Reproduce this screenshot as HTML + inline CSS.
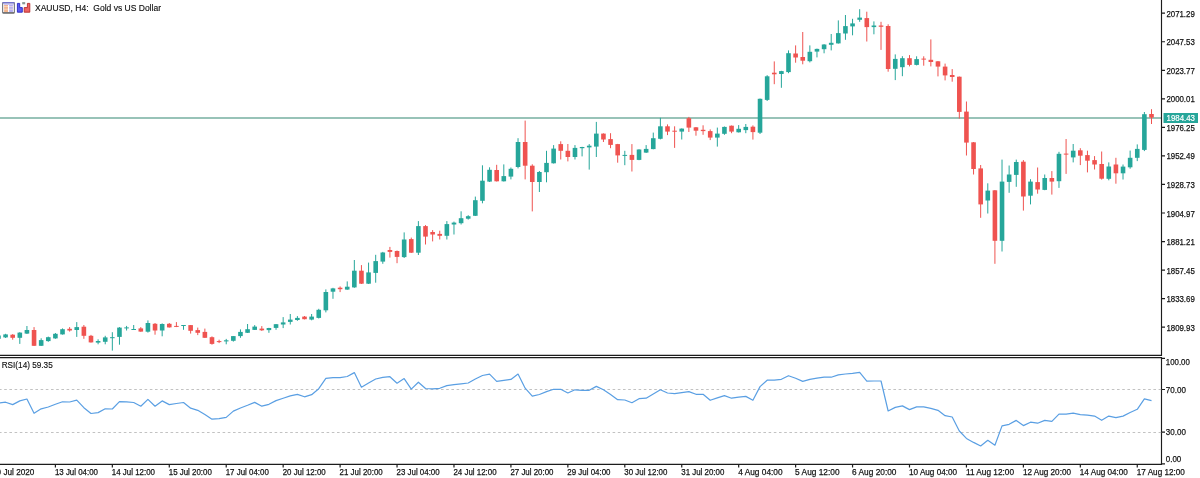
<!DOCTYPE html>
<html><head><meta charset="utf-8"><title>XAUUSD H4</title>
<style>
html,body{margin:0;padding:0;background:#fff;}
body{width:1200px;height:478px;overflow:hidden;position:relative;font-family:"Liberation Sans",sans-serif;}
svg{display:block;position:absolute;left:0;top:0;filter:blur(0.3px);}
</style></head><body>
<svg width="1200" height="478" viewBox="0 0 1200 478"><line x1="0" y1="118" x2="1161.5" y2="118" stroke="#98c3b8" stroke-width="2"/><path d="M-1.54 335.0V339.0 M5.58 333.8V338.0 M19.81 332.2V343.9 M26.93 326.0V334.0 M41.16 338.3V346.0 M48.28 336.6V341.8 M55.40 333.0V338.8 M62.52 328.4V334.6 M76.75 322.1V336.9 M98.10 339.3V344.3 M105.22 335.8V344.3 M112.34 332.2V350.6 M119.46 327.1V344.7 M126.57 325.9V330.5 M133.69 325.0V330.0 M147.93 320.4V332.6 M162.16 323.4V336.3 M183.52 325.0V329.8 M226.22 338.9V344.3 M233.34 336.0V341.6 M240.46 329.4V337.8 M247.57 324.0V333.0 M254.69 325.1V330.0 M268.92 327.8V332.8 M276.04 324.0V329.8 M283.16 317.1V328.1 M290.28 314.0V324.5 M297.39 316.1V320.8 M311.63 314.0V320.3 M318.75 308.8V318.5 M325.86 289.4V312.4 M332.98 287.8V298.8 M347.22 281.4V289.8 M354.33 260.0V287.8 M368.57 262.6V284.0 M375.69 254.8V282.7 M382.80 251.9V263.8 M404.16 232.4V258.0 M418.39 221.1V255.0 M446.86 221.1V239.5 M453.98 221.6V234.5 M461.10 211.3V224.5 M468.21 215.2V219.6 M475.33 196.6V216.0 M482.45 165.3V203.3 M489.57 167.3V182.0 M503.80 164.4V181.5 M510.92 167.5V179.4 M518.04 138.2V168.4 M539.39 171.0V192.0 M546.51 150.8V182.3 M553.62 145.1V163.5 M574.98 145.1V159.5 M582.09 146.8V156.4 M589.21 144.1V169.6 M596.33 121.9V157.0 M624.80 150.8V165.2 M639.03 149.3V160.2 M646.15 145.1V153.0 M653.27 132.6V149.3 M660.39 117.8V139.4 M681.74 128.4V139.5 M717.33 127.6V146.6 M724.44 126.5V134.8 M738.68 125.1V132.5 M745.80 124.0V133.2 M760.03 98.5V134.0 M767.15 75.2V101.0 M781.38 70.8V87.8 M788.50 50.4V73.2 M809.85 45.4V62.4 M816.97 48.6V57.4 M824.09 44.2V53.3 M831.21 34.0V50.4 M838.32 20.4V43.6 M845.44 15.0V39.8 M852.56 18.8V35.3 M859.68 9.2V21.8 M873.91 21.4V34.3 M895.26 54.4V80.1 M902.38 56.2V76.2 M916.62 56.3V65.4 M987.79 183.3V213.5 M1002.03 159.6V251.5 M1009.14 165.5V192.8 M1016.26 159.6V186.8 M1030.50 179.2V204.4 M1044.73 174.5V190.2 M1058.97 151.8V187.9 M1073.20 144.0V162.4 M1108.79 162.4V180.3 M1123.03 164.5V179.5 M1130.14 150.6V168.7 M1137.26 144.4V161.1 M1144.38 112.0V151.1" stroke="#26a69a" stroke-width="1" fill="none"/><path d="M12.70 334.1V339.7 M34.05 327.1V346.0 M69.63 327.1V331.6 M83.87 325.0V338.8 M90.99 334.9V342.6 M140.81 327.1V331.8 M155.04 323.0V334.7 M169.28 323.0V327.6 M176.40 322.1V327.1 M190.63 325.0V333.6 M197.75 327.6V335.1 M204.87 328.6V338.0 M211.98 336.4V344.7 M219.10 339.7V343.1 M261.81 326.1V330.9 M304.51 316.0V319.4 M340.10 286.4V292.1 M361.45 265.1V284.0 M389.92 246.9V257.6 M397.04 250.5V263.2 M411.27 237.6V253.0 M425.51 225.1V244.5 M432.63 230.1V241.4 M439.74 230.7V239.5 M496.68 164.8V181.5 M525.15 120.6V179.4 M532.27 164.3V211.4 M560.74 141.3V159.5 M567.86 144.0V161.4 M603.45 133.4V142.0 M610.56 133.2V148.2 M617.68 143.9V162.7 M631.92 144.1V171.5 M667.50 124.4V135.1 M674.62 126.3V147.9 M688.86 116.9V132.0 M695.97 127.0V135.7 M703.09 125.3V134.8 M710.21 129.4V140.1 M731.56 125.5V133.2 M752.91 125.4V139.6 M774.27 61.4V84.2 M795.62 45.4V62.7 M802.74 32.0V64.3 M866.79 11.7V41.5 M881.03 21.8V49.9 M888.15 24.3V71.7 M909.50 55.1V66.4 M923.73 56.3V65.7 M930.85 39.4V66.4 M937.97 61.0V76.4 M945.09 63.6V80.4 M952.20 69.1V81.7 M959.32 76.5V118.6 M966.44 101.5V155.5 M973.56 142.0V174.5 M980.67 165.0V217.8 M994.91 190.0V263.8 M1023.38 160.1V210.6 M1037.62 167.5V193.7 M1051.85 171.1V194.6 M1066.09 139.0V173.9 M1080.32 148.2V165.1 M1087.44 150.7V172.4 M1094.56 156.1V169.5 M1101.67 151.5V179.6 M1115.91 157.8V183.7 M1151.50 109.2V124.0" stroke="#ef5350" stroke-width="1" fill="none"/><g fill="#26a69a"><rect x="-3.84" y="335.5" width="4.6" height="3.3"/><rect x="3.28" y="334.4" width="4.6" height="3.0"/><rect x="17.51" y="332.6" width="4.6" height="5.2"/><rect x="24.63" y="330.0" width="4.6" height="3.6"/><rect x="38.87" y="340.1" width="4.6" height="5.7"/><rect x="45.98" y="337.2" width="4.6" height="3.9"/><rect x="53.10" y="333.8" width="4.6" height="4.6"/><rect x="60.22" y="329.2" width="4.6" height="5.2"/><rect x="74.45" y="327.1" width="4.6" height="2.9"/><rect x="95.80" y="341.0" width="4.6" height="1.6"/><rect x="102.92" y="337.4" width="4.6" height="4.4"/><rect x="110.04" y="337.2" width="4.6" height="1.0"/><rect x="117.16" y="327.6" width="4.6" height="9.3"/><rect x="124.27" y="327.4" width="4.6" height="1.0"/><rect x="131.39" y="329.0" width="4.6" height="1.0"/><rect x="145.63" y="323.0" width="4.6" height="8.7"/><rect x="159.86" y="324.0" width="4.6" height="6.5"/><rect x="181.22" y="325.0" width="4.6" height="1.0"/><rect x="223.92" y="340.3" width="4.6" height="1.1"/><rect x="231.04" y="336.1" width="4.6" height="4.7"/><rect x="238.16" y="331.9" width="4.6" height="4.2"/><rect x="245.27" y="329.2" width="4.6" height="3.6"/><rect x="252.39" y="326.6" width="4.6" height="3.3"/><rect x="266.62" y="328.0" width="4.6" height="2.1"/><rect x="273.74" y="324.2" width="4.6" height="3.7"/><rect x="280.86" y="322.4" width="4.6" height="2.1"/><rect x="287.98" y="319.6" width="4.6" height="2.3"/><rect x="295.09" y="317.9" width="4.6" height="2.1"/><rect x="309.33" y="316.6" width="4.6" height="3.0"/><rect x="316.45" y="309.8" width="4.6" height="8.1"/><rect x="323.56" y="292.0" width="4.6" height="18.3"/><rect x="330.68" y="288.4" width="4.6" height="3.3"/><rect x="344.92" y="286.7" width="4.6" height="2.9"/><rect x="352.03" y="270.7" width="4.6" height="16.7"/><rect x="366.27" y="272.4" width="4.6" height="11.3"/><rect x="373.39" y="261.1" width="4.6" height="11.8"/><rect x="380.50" y="252.5" width="4.6" height="9.1"/><rect x="401.86" y="239.5" width="4.6" height="17.6"/><rect x="416.09" y="226.1" width="4.6" height="26.6"/><rect x="444.56" y="224.1" width="4.6" height="11.7"/><rect x="451.68" y="222.6" width="4.6" height="1.9"/><rect x="458.80" y="218.2" width="4.6" height="5.0"/><rect x="465.91" y="216.2" width="4.6" height="2.5"/><rect x="473.03" y="200.2" width="4.6" height="15.6"/><rect x="480.15" y="180.7" width="4.6" height="20.1"/><rect x="487.27" y="169.8" width="4.6" height="11.8"/><rect x="501.50" y="176.1" width="4.6" height="5.2"/><rect x="508.62" y="168.8" width="4.6" height="7.8"/><rect x="515.74" y="142.0" width="4.6" height="25.0"/><rect x="537.09" y="172.0" width="4.6" height="10.0"/><rect x="544.21" y="162.9" width="4.6" height="9.3"/><rect x="551.33" y="148.6" width="4.6" height="14.7"/><rect x="572.68" y="147.9" width="4.6" height="9.1"/><rect x="579.79" y="147.0" width="4.6" height="1.2"/><rect x="586.91" y="145.7" width="4.6" height="1.7"/><rect x="594.03" y="133.6" width="4.6" height="13.0"/><rect x="622.50" y="154.9" width="4.6" height="1.0"/><rect x="636.74" y="149.5" width="4.6" height="10.4"/><rect x="643.85" y="148.9" width="4.6" height="3.7"/><rect x="650.97" y="138.2" width="4.6" height="10.9"/><rect x="658.09" y="126.3" width="4.6" height="12.5"/><rect x="679.44" y="128.6" width="4.6" height="3.0"/><rect x="715.03" y="133.6" width="4.6" height="4.0"/><rect x="722.14" y="126.9" width="4.6" height="6.9"/><rect x="736.38" y="128.8" width="4.6" height="3.5"/><rect x="743.50" y="126.9" width="4.6" height="3.2"/><rect x="757.73" y="98.8" width="4.6" height="33.9"/><rect x="764.85" y="76.3" width="4.6" height="23.6"/><rect x="779.09" y="71.1" width="4.6" height="2.9"/><rect x="786.20" y="53.2" width="4.6" height="18.9"/><rect x="807.55" y="51.8" width="4.6" height="9.4"/><rect x="814.67" y="48.9" width="4.6" height="2.7"/><rect x="821.79" y="44.5" width="4.6" height="4.7"/><rect x="828.91" y="42.8" width="4.6" height="2.0"/><rect x="836.02" y="33.1" width="4.6" height="10.3"/><rect x="843.14" y="26.1" width="4.6" height="7.4"/><rect x="850.26" y="23.4" width="4.6" height="3.0"/><rect x="857.38" y="17.6" width="4.6" height="2.2"/><rect x="871.61" y="25.5" width="4.6" height="1.6"/><rect x="892.97" y="58.9" width="4.6" height="9.9"/><rect x="900.08" y="58.2" width="4.6" height="9.0"/><rect x="914.32" y="59.1" width="4.6" height="5.8"/><rect x="985.49" y="190.6" width="4.6" height="9.9"/><rect x="999.73" y="181.6" width="4.6" height="59.2"/><rect x="1006.85" y="174.5" width="4.6" height="7.4"/><rect x="1013.96" y="162.0" width="4.6" height="12.9"/><rect x="1028.20" y="181.6" width="4.6" height="14.1"/><rect x="1042.43" y="178.0" width="4.6" height="11.9"/><rect x="1056.67" y="153.8" width="4.6" height="27.4"/><rect x="1070.90" y="150.7" width="4.6" height="6.7"/><rect x="1106.49" y="166.5" width="4.6" height="12.3"/><rect x="1120.73" y="166.6" width="4.6" height="6.7"/><rect x="1127.84" y="157.8" width="4.6" height="9.5"/><rect x="1134.96" y="148.9" width="4.6" height="8.9"/><rect x="1142.08" y="114.2" width="4.6" height="35.7"/></g><g fill="#ef5350"><rect x="10.39" y="334.7" width="4.6" height="3.1"/><rect x="31.75" y="330.0" width="4.6" height="15.8"/><rect x="67.33" y="328.8" width="4.6" height="1.7"/><rect x="81.57" y="326.7" width="4.6" height="9.1"/><rect x="88.69" y="335.8" width="4.6" height="6.6"/><rect x="138.51" y="328.4" width="4.6" height="3.2"/><rect x="152.74" y="323.8" width="4.6" height="6.7"/><rect x="166.98" y="323.8" width="4.6" height="3.6"/><rect x="174.10" y="325.9" width="4.6" height="1.0"/><rect x="188.33" y="325.1" width="4.6" height="5.7"/><rect x="195.45" y="330.1" width="4.6" height="2.7"/><rect x="202.57" y="331.9" width="4.6" height="5.9"/><rect x="209.68" y="337.2" width="4.6" height="6.7"/><rect x="216.80" y="341.1" width="4.6" height="1.0"/><rect x="259.51" y="328.6" width="4.6" height="1.7"/><rect x="302.21" y="316.6" width="4.6" height="2.6"/><rect x="337.80" y="287.7" width="4.6" height="1.5"/><rect x="359.15" y="270.7" width="4.6" height="13.0"/><rect x="387.62" y="250.0" width="4.6" height="1.9"/><rect x="394.74" y="251.0" width="4.6" height="5.9"/><rect x="408.97" y="239.1" width="4.6" height="13.6"/><rect x="423.21" y="226.1" width="4.6" height="10.5"/><rect x="430.33" y="232.0" width="4.6" height="2.5"/><rect x="437.44" y="233.9" width="4.6" height="1.9"/><rect x="494.38" y="170.0" width="4.6" height="11.3"/><rect x="522.86" y="142.0" width="4.6" height="23.7"/><rect x="529.97" y="165.7" width="4.6" height="16.3"/><rect x="558.44" y="144.1" width="4.6" height="6.7"/><rect x="565.56" y="150.8" width="4.6" height="6.2"/><rect x="601.15" y="133.6" width="4.6" height="5.9"/><rect x="608.26" y="139.1" width="4.6" height="5.8"/><rect x="615.38" y="144.1" width="4.6" height="11.3"/><rect x="629.62" y="154.9" width="4.6" height="5.0"/><rect x="665.21" y="126.3" width="4.6" height="5.3"/><rect x="672.32" y="130.7" width="4.6" height="1.0"/><rect x="686.56" y="118.2" width="4.6" height="9.4"/><rect x="693.67" y="127.3" width="4.6" height="3.4"/><rect x="700.79" y="129.8" width="4.6" height="1.3"/><rect x="707.91" y="131.1" width="4.6" height="6.5"/><rect x="729.26" y="125.7" width="4.6" height="5.9"/><rect x="750.62" y="126.7" width="4.6" height="5.4"/><rect x="771.97" y="72.7" width="4.6" height="1.6"/><rect x="793.32" y="53.5" width="4.6" height="4.0"/><rect x="800.44" y="57.0" width="4.6" height="3.7"/><rect x="864.50" y="18.1" width="4.6" height="9.0"/><rect x="878.73" y="25.5" width="4.6" height="1.3"/><rect x="885.85" y="26.0" width="4.6" height="43.0"/><rect x="907.20" y="58.2" width="4.6" height="6.7"/><rect x="921.43" y="58.6" width="4.6" height="1.0"/><rect x="928.55" y="59.8" width="4.6" height="2.2"/><rect x="935.67" y="61.3" width="4.6" height="5.3"/><rect x="942.79" y="66.6" width="4.6" height="8.8"/><rect x="949.90" y="75.0" width="4.6" height="2.0"/><rect x="957.02" y="76.7" width="4.6" height="35.2"/><rect x="964.14" y="111.6" width="4.6" height="31.0"/><rect x="971.26" y="142.3" width="4.6" height="26.7"/><rect x="978.38" y="168.4" width="4.6" height="36.0"/><rect x="992.61" y="190.3" width="4.6" height="50.5"/><rect x="1021.08" y="161.7" width="4.6" height="34.8"/><rect x="1035.32" y="182.1" width="4.6" height="7.4"/><rect x="1049.55" y="178.0" width="4.6" height="3.6"/><rect x="1063.79" y="153.6" width="4.6" height="1.0"/><rect x="1078.02" y="150.3" width="4.6" height="5.4"/><rect x="1085.14" y="155.1" width="4.6" height="5.6"/><rect x="1092.26" y="160.1" width="4.6" height="4.4"/><rect x="1099.37" y="164.0" width="4.6" height="14.7"/><rect x="1113.61" y="164.5" width="4.6" height="8.8"/><rect x="1149.20" y="114.0" width="4.6" height="3.6"/></g><path d="M0 355.4H1161.5V0 M0 357.6H1161.5V464.4H0" stroke="#1c1c1c" stroke-width="1.15" fill="none"/><path d="M1161.5 13.20H1165 M1161.5 41.75H1165 M1161.5 70.29H1165 M1161.5 98.84H1165 M1161.5 127.38H1165 M1161.5 155.93H1165 M1161.5 184.47H1165 M1161.5 213.01H1165 M1161.5 241.56H1165 M1161.5 270.11H1165 M1161.5 298.65H1165 M1161.5 327.19H1165 M1161.5 358.40H1165 M1161.5 389.50H1165 M1161.5 432.10H1165 M1161.5 463.90H1165 M55.40 464V467.5 M112.34 464V467.5 M169.28 464V467.5 M226.22 464V467.5 M283.16 464V467.5 M340.10 464V467.5 M397.04 464V467.5 M453.98 464V467.5 M510.92 464V467.5 M567.86 464V467.5 M624.80 464V467.5 M681.74 464V467.5 M738.68 464V467.5 M795.62 464V467.5 M852.56 464V467.5 M909.50 464V467.5 M966.44 464V467.5 M1023.38 464V467.5 M1080.32 464V467.5 M1137.26 464V467.5" stroke="#1c1c1c" stroke-width="1.2" fill="none"/><path d="M0 389.5H1161.5 M0 432.5H1161.5" stroke="#c2c2c2" stroke-width="1" stroke-dasharray="2.6 2.6" stroke-dashoffset="1" fill="none"/><polyline points="-1.54,403.0 5.58,402.2 12.70,404.6 19.81,400.9 26.93,399.0 34.05,413.3 41.16,408.8 48.28,407.0 55.40,404.3 62.52,401.8 69.63,402.0 76.75,400.1 83.87,407.7 90.99,413.5 98.10,412.6 105.22,408.8 112.34,409.0 119.46,401.6 126.57,401.8 133.69,402.5 140.81,406.2 147.93,399.4 155.04,406.2 162.16,400.9 169.28,404.6 176.40,403.5 183.52,402.5 190.63,408.2 197.75,410.3 204.87,414.5 211.98,419.2 219.10,418.7 226.22,417.4 233.34,411.1 240.46,408.0 247.57,405.3 254.69,402.4 261.81,406.2 268.92,404.3 276.04,400.6 283.16,398.2 290.28,395.9 297.39,394.4 304.51,396.8 311.63,394.7 318.75,388.7 325.86,378.3 332.98,377.6 340.10,377.6 347.22,376.5 354.33,372.6 361.45,387.2 368.57,383.0 375.69,379.0 382.80,377.3 389.92,376.7 397.04,383.2 404.16,378.6 411.27,389.1 418.39,382.2 425.51,388.5 432.63,388.8 439.74,388.3 446.86,385.6 453.98,384.6 461.10,383.8 468.21,383.0 475.33,379.0 482.45,375.5 489.57,374.1 496.68,381.4 503.80,380.4 510.92,379.4 518.04,374.1 525.15,388.2 532.27,396.1 539.39,394.5 546.51,391.6 553.62,389.3 560.74,389.3 567.86,393.0 574.98,389.8 582.09,390.3 589.21,390.3 596.33,386.4 603.45,389.8 610.56,394.5 617.68,399.7 624.80,400.0 631.92,402.7 639.03,398.7 646.15,398.2 653.27,394.0 660.39,389.8 667.50,393.0 674.62,393.7 681.74,392.6 688.86,391.6 695.97,394.3 703.09,394.3 710.21,400.3 717.33,397.9 724.44,395.6 731.56,398.2 738.68,397.1 745.80,396.4 752.91,400.3 760.03,386.6 767.15,380.2 774.27,380.1 781.38,379.3 788.50,375.7 795.62,378.2 802.74,381.4 809.85,379.3 816.97,378.2 824.09,377.2 831.21,377.2 838.32,374.9 845.44,374.0 852.56,373.3 859.68,372.4 866.79,381.1 873.91,381.0 881.03,381.0 888.15,411.0 895.26,407.4 902.38,405.9 909.50,409.6 916.62,406.9 923.73,406.9 930.85,408.4 937.97,410.3 945.09,415.7 952.20,417.0 959.32,431.0 966.44,438.4 973.56,442.4 980.67,446.0 987.79,440.3 994.91,445.2 1002.03,425.9 1009.14,424.3 1016.26,420.4 1023.38,425.6 1030.50,422.2 1037.62,423.2 1044.73,420.4 1051.85,421.4 1058.97,414.2 1066.09,414.2 1073.20,413.2 1080.32,414.6 1087.44,415.1 1094.56,416.1 1101.67,420.3 1108.79,416.1 1115.91,417.7 1123.03,416.1 1130.14,412.5 1137.26,409.3 1144.38,398.9 1151.50,400.7" stroke="#5a9fe3" stroke-width="1.2" fill="none" stroke-linejoin="round"/><g font-family="Liberation Sans, sans-serif" font-size="9.8" fill="#111" stroke="#111" stroke-width="0.25"><text x="1166.4" y="16.70" textLength="28.4" lengthAdjust="spacingAndGlyphs">2071.29</text><text x="1166.4" y="45.25" textLength="28.4" lengthAdjust="spacingAndGlyphs">2047.53</text><text x="1166.4" y="73.79" textLength="28.4" lengthAdjust="spacingAndGlyphs">2023.77</text><text x="1166.4" y="102.34" textLength="28.4" lengthAdjust="spacingAndGlyphs">2000.01</text><text x="1166.4" y="130.88" textLength="28.4" lengthAdjust="spacingAndGlyphs">1976.25</text><text x="1166.4" y="159.43" textLength="28.4" lengthAdjust="spacingAndGlyphs">1952.49</text><text x="1166.4" y="187.97" textLength="28.4" lengthAdjust="spacingAndGlyphs">1928.73</text><text x="1166.4" y="216.51" textLength="28.4" lengthAdjust="spacingAndGlyphs">1904.97</text><text x="1166.4" y="245.06" textLength="28.4" lengthAdjust="spacingAndGlyphs">1881.21</text><text x="1166.4" y="273.61" textLength="28.4" lengthAdjust="spacingAndGlyphs">1857.45</text><text x="1166.4" y="302.15" textLength="28.4" lengthAdjust="spacingAndGlyphs">1833.69</text><text x="1166.4" y="330.69" textLength="28.4" lengthAdjust="spacingAndGlyphs">1809.93</text><text x="1165.8" y="365.00" textLength="24" lengthAdjust="spacingAndGlyphs">100.00</text><text x="1165.8" y="392.70" textLength="20.1" lengthAdjust="spacingAndGlyphs">70.00</text><text x="1165.8" y="435.30" textLength="20.1" lengthAdjust="spacingAndGlyphs">30.00</text><text x="1165.8" y="461.50" textLength="15.5" lengthAdjust="spacingAndGlyphs">0.00</text><text x="54.90" y="475.3" textLength="43.1" lengthAdjust="spacingAndGlyphs">13 Jul 04:00</text><text x="111.84" y="475.3" textLength="43.1" lengthAdjust="spacingAndGlyphs">14 Jul 12:00</text><text x="168.78" y="475.3" textLength="43.1" lengthAdjust="spacingAndGlyphs">15 Jul 20:00</text><text x="225.72" y="475.3" textLength="43.1" lengthAdjust="spacingAndGlyphs">17 Jul 04:00</text><text x="282.66" y="475.3" textLength="43.1" lengthAdjust="spacingAndGlyphs">20 Jul 12:00</text><text x="339.60" y="475.3" textLength="43.1" lengthAdjust="spacingAndGlyphs">21 Jul 20:00</text><text x="396.54" y="475.3" textLength="43.1" lengthAdjust="spacingAndGlyphs">23 Jul 04:00</text><text x="453.48" y="475.3" textLength="43.1" lengthAdjust="spacingAndGlyphs">24 Jul 12:00</text><text x="510.42" y="475.3" textLength="43.1" lengthAdjust="spacingAndGlyphs">27 Jul 20:00</text><text x="567.36" y="475.3" textLength="43.1" lengthAdjust="spacingAndGlyphs">29 Jul 04:00</text><text x="624.30" y="475.3" textLength="43.1" lengthAdjust="spacingAndGlyphs">30 Jul 12:00</text><text x="681.24" y="475.3" textLength="43.1" lengthAdjust="spacingAndGlyphs">31 Jul 20:00</text><text x="738.18" y="475.3" textLength="44.4" lengthAdjust="spacingAndGlyphs">4 Aug 04:00</text><text x="795.12" y="475.3" textLength="44.4" lengthAdjust="spacingAndGlyphs">5 Aug 12:00</text><text x="852.06" y="475.3" textLength="44.4" lengthAdjust="spacingAndGlyphs">6 Aug 20:00</text><text x="909.00" y="475.3" textLength="48.1" lengthAdjust="spacingAndGlyphs">10 Aug 04:00</text><text x="965.94" y="475.3" textLength="48.1" lengthAdjust="spacingAndGlyphs">11 Aug 12:00</text><text x="1022.88" y="475.3" textLength="48.1" lengthAdjust="spacingAndGlyphs">12 Aug 20:00</text><text x="1079.82" y="475.3" textLength="48.1" lengthAdjust="spacingAndGlyphs">14 Aug 04:00</text><text x="1136.76" y="475.3" textLength="48.1" lengthAdjust="spacingAndGlyphs">17 Aug 12:00</text><text x="-3.4" y="475.3" textLength="37.8" lengthAdjust="spacingAndGlyphs">9 Jul 2020</text></g><rect x="1163.5" y="113" width="34.5" height="10" fill="#26a69a"/><text x="1166.5" y="121.3" font-family="Liberation Sans, sans-serif" font-size="8.8" fill="#fff" stroke="#fff" stroke-width="0.2" textLength="28.5" lengthAdjust="spacingAndGlyphs">1984.43</text><text xml:space="preserve" x="35" y="10.8" font-family="Liberation Sans, sans-serif" font-size="9" fill="#111" stroke="#111" stroke-width="0.15" textLength="126" lengthAdjust="spacingAndGlyphs">XAUUSD, H4:  Gold vs US Dollar</text><text x="1.7" y="368.4" font-family="Liberation Sans, sans-serif" font-size="9.2" fill="#111" stroke="#111" stroke-width="0.15" textLength="51" lengthAdjust="spacingAndGlyphs">RSI(14) 59.35</text><g>
<rect x="2.6" y="2.6" width="11.8" height="10.2" rx="0.8" fill="#fff" stroke="#7c7c84" stroke-width="1.2"/>
<path d="M2.6 12.9H14.4" stroke="#6f6f6f" stroke-width="1.4"/>
<path d="M2.6 2.8H14.4" stroke="#7272d8" stroke-width="1.3"/>
<rect x="4" y="4" width="10" height="0.9" fill="#c8c0f4"/>
<rect x="4.1" y="5" width="3.9" height="7" fill="#f4b48c"/>
<rect x="9.1" y="5" width="3.8" height="7" fill="#b4aef0"/>
<path d="M4 6.6H8 M4 9.2H8 M9 6.6H13 M9 9.2H13" stroke="#fbe6da" stroke-width="0.7"/>
<path d="M17.4 3.4h2.3v4.2h2.6v4.6h-4.9z" fill="#5a5af0" stroke="#2626c4" stroke-width="0.9" stroke-linejoin="round"/>
<rect x="22.2" y="2.1" width="3" height="2.2" fill="#8a9a96"/>
<path d="M27.4 3.4h2.4v8.8h-5.6v-4.6h3.2z" fill="#ee6262" stroke="#b42a2a" stroke-width="0.9" stroke-linejoin="round"/>
</g></svg>
</body></html>
